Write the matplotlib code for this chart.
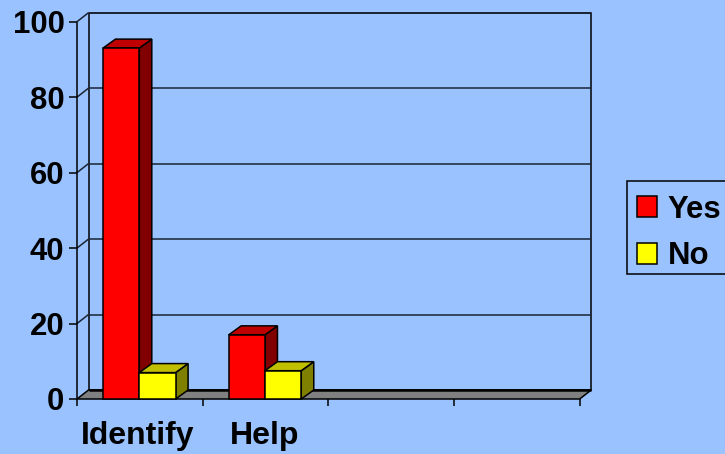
import matplotlib

matplotlib.use("Agg")
import matplotlib.pyplot as plt
from matplotlib.patches import Patch, Polygon, Rectangle
from matplotlib.transforms import ScaledTranslation

categories = ["Identify", "Help", "", ""]
yes_values = [93, 17, 0, 0]
no_values = [7, 7.5, 0, 0]
y_ticks = [0, 20, 40, 60, 80, 100]
legend_labels = ["Yes", "No"]

BG = "#99C2FF"
W, H = 725, 454
FS = 22.4
plt.rcParams["font.family"] = ["Liberation Sans", "DejaVu Sans"]
plt.rcParams["font.weight"] = "bold"

fig = plt.figure(figsize=(W / 100, H / 100), dpi=100, facecolor=BG)
ax = fig.add_axes([77 / W, 55 / H, 502.7 / W, 377.3 / H], facecolor="none")
ax.set_xlim(0, len(categories))
ax.set_ylim(0, 100)

# depth of the fake 3D box, in data units (about 12 px right, 9 px up)
dx = 11.5 / (502.7 / 4)
bar_dx = 12.5 / (502.7 / 4)
dy = 9 / (377.3 / 100)
LW = 1.1


def poly(pts, fc, z, lw=LW, ec="black"):
    ax.add_patch(Polygon(pts, closed=True, fc=fc, ec=ec, lw=lw, zorder=z, clip_on=False))


def seg(xs, ys, z=1, lw=LW, color="black"):
    ax.plot(xs, ys, color=color, lw=lw, zorder=z, clip_on=False, solid_capstyle="butt")


def bar3d(x0, x1, v, front, side, top, z):
    poly([(x1, 0), (x1 + bar_dx, dy), (x1 + bar_dx, v + dy), (x1, v)], side, z)
    poly([(x0, v), (x0 + bar_dx, v + dy), (x1 + bar_dx, v + dy), (x1, v)], top, z)
    poly([(x0, 0), (x1, 0), (x1, v), (x0, v)], front, z)


# walls and gridlines
n = len(categories)
poly([(dx, dy), (n + dx, dy), (n + dx, 100 + dy), (dx, 100 + dy)], "none", 1)
for t in y_ticks[1:]:
    seg([0, dx], [t, t + dy], color="#1a2433")
    seg([dx, n + dx], [t + dy, t + dy], color="#1a2433")
seg([0, 0], [0, 100])

# floor
poly([(0, 0), (n, 0), (n + dx, dy), (dx, dy)], "#808080", 2)
seg([dx, n + dx], [dy, dy], z=2.1, lw=1.8)

# bars, drawn back to front per category
gap = 26 / 125.7
bar_w = 36.3 / 125.7
for i, (yes, no) in enumerate(zip(yes_values, no_values)):
    if yes > 0:
        bar3d(i + gap, i + gap + bar_w, yes, "#FF0000", "#800000", "#C00000", 3 + i)
    if no > 0:
        bar3d(i + gap + bar_w, i + gap + 2 * bar_w, no, "#FFFF00", "#808000", "#C0C000", 3.5 + i)

for s in ax.spines.values():
    s.set_visible(False)
ax.set_yticks(y_ticks)
ax.tick_params(axis="y", length=6, width=LW, labelsize=FS, pad=3)
ax.set_xticks(range(n + 1))
ax.tick_params(axis="x", which="major", length=5, width=LW, labelbottom=False)
ax.set_xticks([i + 0.5 for i in range(n)], minor=True)
ax.set_xticklabels(categories, minor=True, fontsize=23)
ax.tick_params(axis="x", which="minor", length=0, pad=16)
for lab, px in zip(ax.get_xticklabels(minor=True), [-2, -0.5, 0, 0]):
    lab.set_transform(lab.get_transform() + ScaledTranslation(px / 100, 0, fig.dpi_scale_trans))

# legend box runs off the right edge of the picture
fig.add_artist(Rectangle((626.5 / W, (H - 274) / H), 110 / W, 93 / H, transform=fig.transFigure,
                         fc=BG, ec="black", lw=LW))
handles = [Patch(fc="#FF0000", ec="black", lw=LW), Patch(fc="#FFFF00", ec="black", lw=LW)]
fig.legend(
    handles, legend_labels, loc="upper left", bbox_to_anchor=(637 / W, (H - 194.5) / H),
    fontsize=FS, frameon=False, borderaxespad=0, borderpad=0, handlelength=0.65,
    handleheight=0.65, handletextpad=0.33, labelspacing=0.54,
)

fig.savefig("out.png", dpi=100, facecolor=BG)
